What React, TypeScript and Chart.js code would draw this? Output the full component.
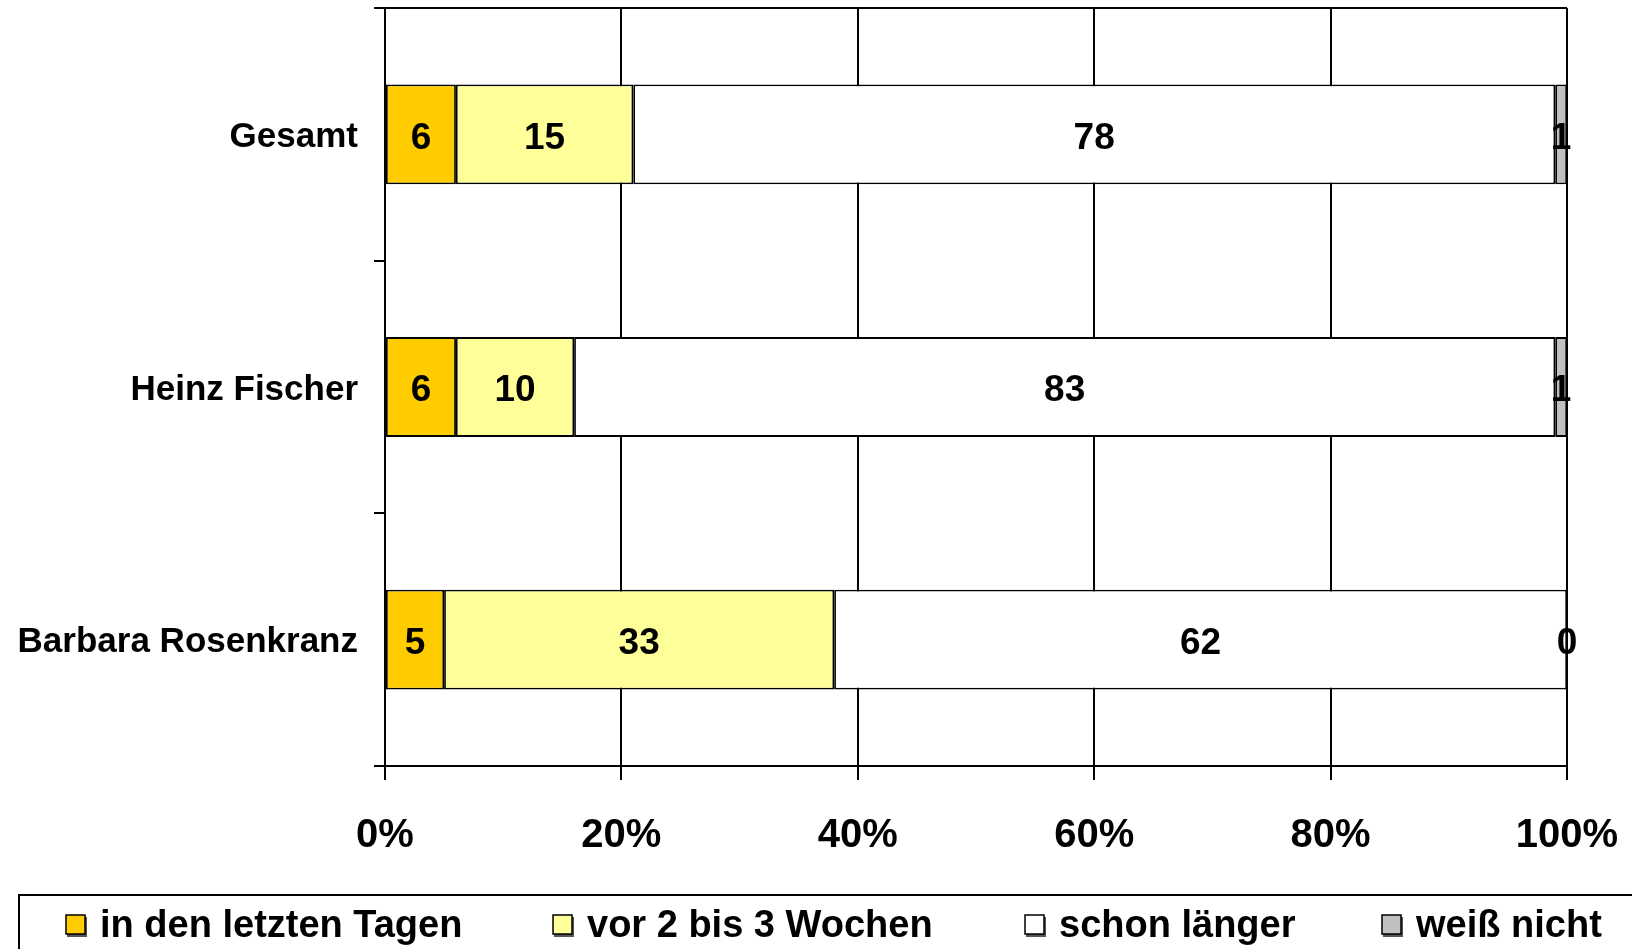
import React, { useEffect, useRef } from 'react';
import { Chart, registerables } from 'chart.js';

Chart.register(...registerables);

const FONT = '"Liberation Sans", Arial, Helvetica, sans-serif';

const categories = ['Gesamt', 'Heinz Fischer', 'Barbara Rosenkranz'];
const seriesNames = ['in den letzten Tagen', 'vor 2 bis 3 Wochen', 'schon länger', 'weiß nicht'];
const inDenLetztenTagen = [6, 6, 5];
const vor2bis3Wochen = [15, 10, 33];
const schonLaenger = [78, 83, 62];
const weissNicht = [1, 1, 0];
const seriesColors = ['#FFCC00', '#FFFF99', '#FFFFFF', '#C0C0C0'];
const xTickValues = [0, 20, 40, 60, 80, 100];

const LEGEND_ITEM_X = [66, 553, 1025, 1382];

const topLinePlugin = {
  id: 'topLine',
  afterDraw(chart: any) {
    const { ctx, chartArea } = chart;
    ctx.save();
    ctx.strokeStyle = '#000';
    ctx.lineWidth = 2;
    ctx.beginPath();
    ctx.moveTo(chartArea.left, chartArea.top);
    ctx.lineTo(chartArea.right, chartArea.top);
    ctx.stroke();
    ctx.restore();
  },
};

const dataLabelPlugin = {
  id: 'dataLabels',
  afterDatasetsDraw(chart: any) {
    const { ctx } = chart;
    ctx.save();
    ctx.fillStyle = '#000';
    ctx.font = `bold 37px ${FONT}`;
    ctx.textAlign = 'center';
    ctx.textBaseline = 'middle';
    chart.data.datasets.forEach((ds: any, di: number) => {
      const meta = chart.getDatasetMeta(di);
      meta.data.forEach((el: any, i: number) => {
        const p = el.getProps(['x', 'y', 'base'], true);
        const cx = (p.x + p.base) / 2;
        ctx.fillText(String(ds.data[i]), cx, p.y + 4);
      });
    });
    ctx.restore();
  },
};

const customLegendPlugin = {
  id: 'customLegend',
  afterDraw(chart: any) {
    const { ctx } = chart;
    ctx.save();
    ctx.strokeStyle = '#000';
    ctx.lineWidth = 2;
    ctx.strokeRect(19, 895, chart.width + 20, 100);
    ctx.font = `bold 38px ${FONT}`;
    ctx.textBaseline = 'middle';
    ctx.textAlign = 'left';
    const cy = 926;
    chart.data.datasets.forEach((ds: any, i: number) => {
      const x = LEGEND_ITEM_X[i];
      ctx.fillStyle = '#555';
      ctx.fillRect(x + 1, cy - 9, 20, 20);
      ctx.fillStyle = ds.backgroundColor;
      ctx.fillRect(x, cy - 11, 19, 19);
      ctx.strokeStyle = '#000';
      ctx.lineWidth = 1.5;
      ctx.strokeRect(x, cy - 11, 19, 19);
      ctx.fillStyle = '#000';
      ctx.fillText(ds.label, x + 34, cy + 1);
    });
    ctx.restore();
  },
};

export default function App() {
  const canvasRef = useRef<HTMLCanvasElement | null>(null);

  useEffect(() => {
    if (!canvasRef.current) return;
    Chart.defaults.font.family = FONT;
    const values = [inDenLetztenTagen, vor2bis3Wochen, schonLaenger, weissNicht];
    const chart = new Chart(canvasRef.current, {
      type: 'bar',
      data: {
        labels: categories,
        datasets: seriesNames.map((name, i) => ({
          label: name,
          data: values[i],
          backgroundColor: seriesColors[i],
          borderColor: '#000',
          borderWidth: 1.8,
          borderSkipped: false,
          categoryPercentage: 1,
          barPercentage: 0.395,
        })),
      },
      options: {
        indexAxis: 'y',
        responsive: true,
        maintainAspectRatio: false,
        animation: false,
        layout: { padding: { top: 8, right: 65, left: 0, bottom: 0 } },
        plugins: {
          legend: { display: false },
          tooltip: { enabled: false },
        },
        scales: {
          x: {
            stacked: true,
            min: 0,
            max: 100,
            afterBuildTicks: (scale: any) => {
              scale.ticks = xTickValues.map((v) => ({ value: v }));
            },
            ticks: {
              callback: (v: any) => v + '%',
              color: '#000',
              font: { size: 40, weight: 'bold' },
              padding: 32,
              maxRotation: 0,
            },
            grid: { color: '#000', lineWidth: 2, tickLength: 14, tickColor: '#000' },
            border: { color: '#000', width: 2 },
            afterFit: (s: any) => {
              s.height = 183;
              s.paddingLeft = 0;
              s.paddingRight = 0;
              s.paddingTop = 0;
              s.paddingBottom = 0;
            },
          },
          y: {
            stacked: true,
            ticks: { color: '#000', font: { size: 35, weight: 'bold' }, padding: 16, labelOffset: 3 },
            grid: {
              drawOnChartArea: false,
              tickLength: 11,
              color: '#000',
              tickColor: '#000',
              lineWidth: 2,
              offset: true,
            },
            border: { color: '#000', width: 2 },
            afterFit: (s: any) => {
              s.width = 385;
              s.paddingLeft = 0;
              s.paddingRight = 0;
              s.paddingTop = 0;
              s.paddingBottom = 0;
            },
          },
        },
      } as any,
      plugins: [topLinePlugin, dataLabelPlugin, customLegendPlugin],
    });
    return () => chart.destroy();
  }, []);

  return (
    <div style={{ position: 'fixed', left: 0, top: 0, width: 1632, height: 949, background: '#fff' }}>
      <canvas ref={canvasRef} />
    </div>
  );
}
